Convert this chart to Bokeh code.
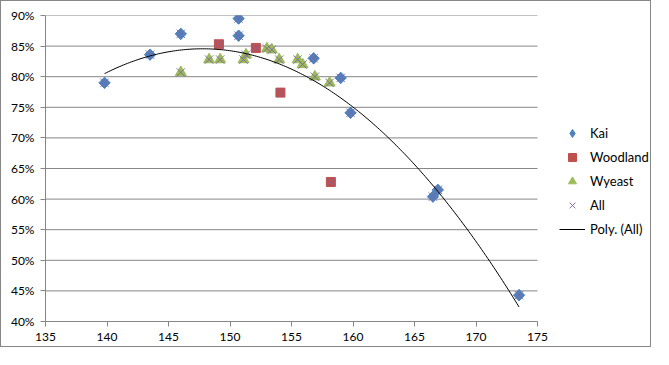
import numpy as np
from bokeh.plotting import figure
from bokeh.models import Legend, LegendItem, NumeralTickFormatter, FixedTicker, Range1d
from bokeh.embed import file_html
from bokeh.resources import INLINE

# ---- data ----
kai_x = [139.8, 143.5, 146.0, 150.7, 150.7, 156.8, 159.0, 159.8, 166.5, 166.9, 173.5]
kai_y = [0.790, 0.836, 0.870, 0.895, 0.867, 0.830, 0.798, 0.741, 0.604, 0.615, 0.443]

woodland_x = [149.1, 152.1, 154.1, 158.2]
woodland_y = [0.853, 0.847, 0.774, 0.628]

wyeast_x = [146.0, 148.3, 149.2, 151.1, 151.3, 153.0, 153.4, 154.0, 155.5, 155.9, 156.9, 158.1]
wyeast_y = [0.807, 0.828, 0.828, 0.828, 0.836, 0.846, 0.844, 0.828, 0.828, 0.820, 0.800, 0.790]

all_x = kai_x + woodland_x + wyeast_x
all_y = kai_y + woodland_y + wyeast_y

x_ticks = [135, 140, 145, 150, 155, 160, 165, 170, 175]
y_ticks = [0.40, 0.45, 0.50, 0.55, 0.60, 0.65, 0.70, 0.75, 0.80, 0.85, 0.90]

# polynomial (order 2) trendline of "All", as in the spreadsheet chart
coef = np.polyfit(all_x, all_y, 2)
trend_x = np.linspace(min(all_x), max(all_x), 200)
trend_y = np.polyval(coef, trend_x)

FONT = "Lato"
GRID = "#868686"

# plot area spans 135..175 over 492 px; the frame is widened to the right so the
# legend (drawn inside the frame) sits in the empty area beside the plot
X0, X1 = x_ticks[0], x_ticks[-1]
FRAME_W = 606
x_end = X0 + (X1 - X0) * FRAME_W / 492.0

p = figure(width=651, height=347, output_backend="svg", toolbar_location=None,
           x_range=Range1d(X0, x_end), y_range=Range1d(y_ticks[0], y_ticks[-1]),
           min_border_left=44, min_border_right=1, min_border_top=14, min_border_bottom=27)
p.styles = {"border": "1px solid #868686"}
p.outline_line_color = None
p.background_fill_color = "white"
p.border_fill_color = "white"

p.xgrid.grid_line_color = None
p.ygrid.grid_line_color = None

# horizontal gridlines limited to the plot area (135..175)
p.segment(x0=[X0] * len(y_ticks), y0=y_ticks, x1=[X1] * len(y_ticks), y1=y_ticks,
          line_color=GRID, line_width=1)

for ax in (p.xaxis[0], p.yaxis[0]):
    ax.axis_line_color = GRID
    ax.major_tick_line_color = GRID
    ax.major_tick_in = 0
    ax.major_tick_out = 5
    ax.minor_tick_line_color = None
    ax.major_label_text_font = FONT
    ax.major_label_text_font_size = "12px"
    ax.major_label_text_color = "#000000"
    ax.major_label_standoff = 6

p.xaxis.ticker = FixedTicker(ticks=x_ticks)
p.xaxis.bounds = (X0, X1)
p.yaxis.ticker = FixedTicker(ticks=y_ticks)
p.yaxis.formatter = NumeralTickFormatter(format="0%")

# diamond glyph (used for the legend swatch), covered by rotated squares
r_kai_leg = p.scatter(kai_x, kai_y, marker="diamond", size=11, fill_color="#4F81BD",
                      line_color="#4F81BD")
r_kai = p.scatter(kai_x, kai_y, marker="square", angle=np.pi / 4, size=8,
                  fill_color="#4F81BD", line_color="#4F81BD")
r_wood = p.scatter(woodland_x, woodland_y, marker="square", size=9, fill_color="#C0504D",
                   line_color="#C0504D")
r_wy = p.scatter(wyeast_x, wyeast_y, marker="triangle", size=11, fill_color="#9BBB59",
                 line_color="#9BBB59")
r_all = p.scatter(all_x, all_y, marker="x", size=12, line_color="#8064A2", line_width=1,
                  line_alpha=0.9)
r_trend = p.line(trend_x, trend_y, line_color="black", line_width=1)

legend = Legend(items=[
    LegendItem(label="Kai", renderers=[r_kai_leg]),
    LegendItem(label="Woodland", renderers=[r_wood]),
    LegendItem(label="Wyeast", renderers=[r_wy]),
    LegendItem(label="All", renderers=[r_all]),
    LegendItem(label="Poly. (All)", renderers=[r_trend]),
], location=(514, 82))
legend.border_line_color = None
legend.background_fill_alpha = 0
legend.label_text_font = FONT
legend.label_text_font_size = "13px"
legend.label_text_color = "#000000"
legend.glyph_width = 26
legend.glyph_height = 20
legend.label_height = 20
legend.spacing = 4
legend.padding = 10
legend.margin = 0
legend.label_standoff = 5
p.add_layout(legend, "center")

open("out.html", "w").write(file_html(p, INLINE))
